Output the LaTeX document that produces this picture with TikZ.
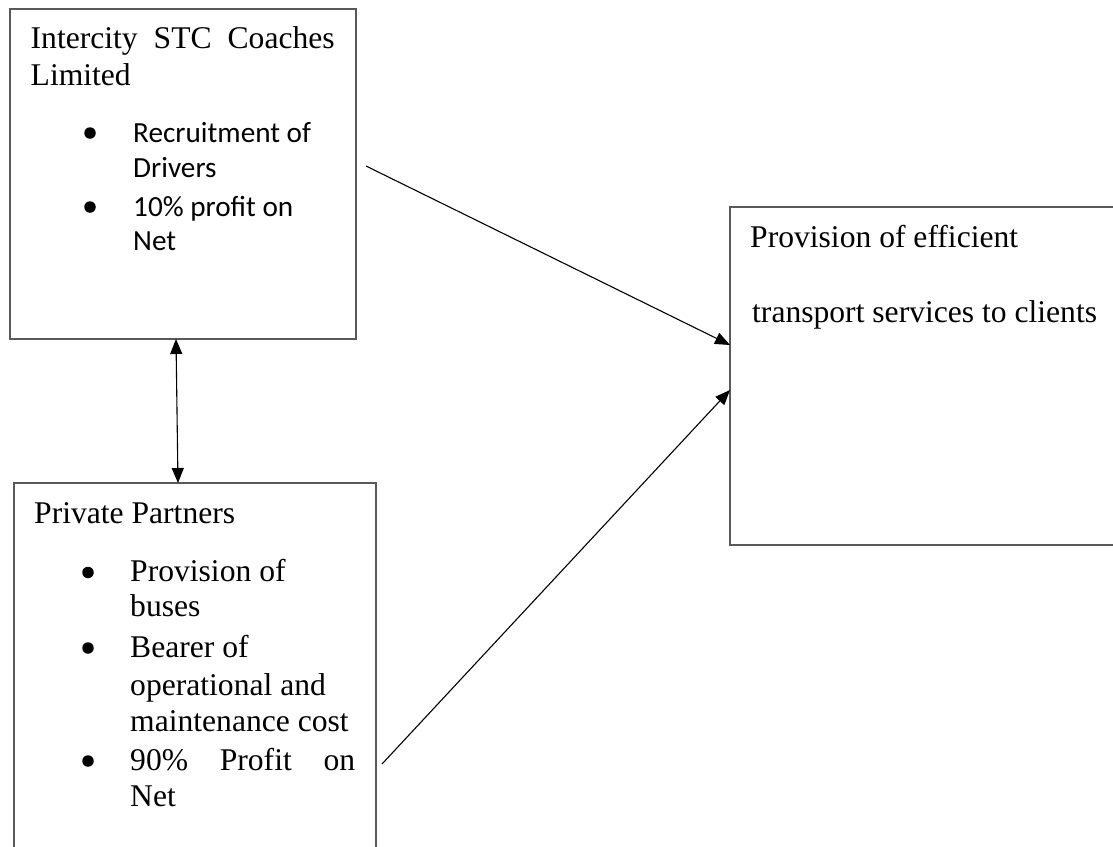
\documentclass[tikz,border=0pt]{standalone}
\usepackage{fontspec}
\setmainfont{Liberation Serif}
\newfontfamily\calfont{Carlito}
\usetikzlibrary{arrows.meta}
\definecolor{boxgray}{HTML}{595959}
\begin{document}
\begin{tikzpicture}[x=1pt,y=-1pt,
  box/.style={draw=boxgray, line width=1.3pt, rectangle, inner sep=0pt, outer sep=0pt, anchor=north west},
  ser/.style={font=\fontsize{31.6}{37}\selectfont, anchor=base west, inner sep=0pt},
  cal/.style={font=\calfont\fontsize{29.2}{35}\selectfont, anchor=base west, inner sep=0pt},
  bul/.style={circle, fill=black, inner sep=0pt, minimum size=11.5pt},
  conn/.style={line width=1.1pt, -{Triangle[length=15pt,width=12pt]}},
  dbl/.style={line width=1.1pt, {Triangle[length=15pt,width=12pt]}-{Triangle[length=15pt,width=12pt]}}]
\useasboundingbox (0,0) rectangle (1113,846);
\fill[white] (0,0) rectangle (1113,846);
% boxes
\node[box, minimum width=346pt, minimum height=330pt] (stc) at (10,9) {};
\node[box, minimum width=362pt, minimum height=400pt] (pp) at (14,483) {};
\node[box, minimum width=400pt, minimum height=338pt] (prov) at (730,207) {};
% top box text
\node[ser] (t1) at (30.5,48) {\makebox[304pt][s]{Intercity STC Coaches}};
\node[ser] (t2) at (30.5,85) {Limited};
\node[bul] (tb1) at (90,133) {};
\node[cal] (t3) at (133,142.7) {Recruitment of};
\node[cal] (t4) at (133,177.7) {Drivers};
\node[bul] (tb2) at (90,207) {};
\node[cal] (t5) at (133,216.7) {10\% profit on};
\node[cal] (t6) at (133,250.7) {Net};
% bottom box text
\node[ser] (p1) at (34,523.3) {Private Partners};
\node[bul] (pb1) at (88,572.5) {};
\node[ser] (p2) at (130,581.7) {Provision of};
\node[ser] (p3) at (130,616.7) {buses};
\node[bul] (pb2) at (88,648) {};
\node[ser] (p4) at (130,657.3) {Bearer of};
\node[ser] (p5) at (130,695) {operational and};
\node[ser] (p6) at (130,731.7) {maintenance cost};
\node[bul] (pb3) at (88,761) {};
\node[ser] (p7) at (130,770) {\makebox[225pt][s]{90\% Profit on}};
\node[ser] (p8) at (130,806.7) {Net};
% right box text
\node[ser] (r1) at (750,247) {Provision of efficient};
\node[ser] (r2) at (752,322) {transport services to clients};
% connectors
\draw[dbl] ([xshift=-7pt]stc.south) -- ([xshift=-17pt]pp.north);
\coordinate (s1) at (366,166);
\coordinate (s2) at (382,764);
\draw[conn] (s1) -- ([yshift=31pt]prov.west);
\draw[conn] (s2) -- ([yshift=-14pt]prov.west);
\end{tikzpicture}
\end{document}
